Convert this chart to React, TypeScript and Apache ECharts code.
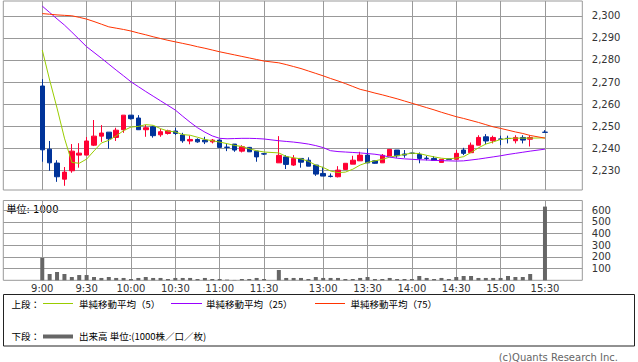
import React, { useEffect, useRef } from "react";
import * as echarts from "echarts";

// ---- axis ticks ----
const xTickSlots = [0, 6, 12, 18, 24, 30, 38, 44, 50, 56, 62, 68];
const xTickLabels = ["9:00", "9:30", "10:00", "10:30", "11:00", "11:30", "13:00", "13:30", "14:00", "14:30", "15:00", "15:30"];
const priceTicks = [2230, 2240, 2250, 2260, 2270, 2280, 2290, 2300];
const volumeTicks = [100, 200, 300, 400, 500, 600];

// ---- 5-minute candles: [open, close, low, high]; null = no trade slot ----
const candles: (number[] | null)[] = [
  [2268.2, 2239.3, 2233.9, 2271.3],
  [2239.6, 2233.4, 2229.8, 2243.3],
  [2233.3, 2227.1, 2224.8, 2234.6],
  [2226.0, 2229.2, 2223.0, 2231.5],
  [2229.8, 2238.7, 2228.9, 2241.9],
  [2236.9, 2237.8, 2231.2, 2242.3],
  [2236.9, 2243.3, 2236.9, 2245.1],
  [2241.4, 2245.5, 2241.0, 2252.8],
  [2245.5, 2246.9, 2242.9, 2250.5],
  [2247.3, 2244.3, 2239.8, 2247.3],
  [2244.9, 2248.2, 2243.3, 2249.3],
  [2248.4, 2255.0, 2247.0, 2255.0],
  [2255.0, 2253.4, 2253.0, 2255.0],
  [2253.7, 2248.4, 2248.4, 2255.0],
  [2248.4, 2249.3, 2245.2, 2250.6],
  [2249.7, 2245.7, 2244.8, 2250.2],
  [2246.1, 2247.5, 2245.2, 2248.8],
  [2246.7, 2247.9, 2246.2, 2248.4],
  [2247.8, 2246.7, 2246.0, 2249.3],
  [2246.0, 2243.4, 2242.5, 2247.0],
  [2243.3, 2244.0, 2241.8, 2245.7],
  [2244.0, 2242.9, 2242.5, 2244.5],
  [2243.7, 2242.9, 2241.9, 2245.2],
  [2242.9, 2243.7, 2242.2, 2244.2],
  [2243.7, 2240.4, 2240.0, 2244.0],
  [2240.5, 2240.4, 2238.7, 2241.9],
  [2241.9, 2239.2, 2238.4, 2241.9],
  [2238.7, 2240.7, 2238.1, 2241.4],
  [2240.4, 2238.4, 2238.4, 2240.6],
  [2238.7, 2236.1, 2233.9, 2238.7],
  [2237.5, 2237.4, 2237.0, 2237.8],
  null,
  [2233.4, 2236.8, 2233.4, 2245.5],
  [2236.1, 2232.7, 2230.6, 2236.9],
  [2232.4, 2235.4, 2232.0, 2236.9],
  [2235.4, 2233.7, 2231.2, 2235.4],
  [2234.6, 2231.9, 2231.9, 2235.9],
  [2232.4, 2228.3, 2227.5, 2232.4],
  [2228.6, 2227.4, 2227.4, 2231.6],
  [2227.4, 2227.2, 2226.8, 2228.6],
  [2227.1, 2230.1, 2226.8, 2231.9],
  [2230.4, 2233.2, 2230.4, 2233.2],
  [2232.8, 2234.6, 2232.8, 2236.6],
  [2234.3, 2236.9, 2234.3, 2238.4],
  [2236.9, 2233.4, 2233.4, 2239.9],
  [2234.3, 2233.2, 2233.0, 2234.5],
  [2233.4, 2236.8, 2233.4, 2237.4],
  [2236.5, 2239.5, 2236.5, 2239.5],
  [2239.2, 2236.6, 2235.7, 2239.2],
  [2237.4, 2236.9, 2235.7, 2239.2],
  [2237.8, 2237.7, 2237.5, 2238.0],
  [2237.2, 2235.4, 2233.2, 2238.1],
  [2235.5, 2235.4, 2234.5, 2236.6],
  [2235.4, 2234.5, 2234.5, 2236.5],
  [2233.6, 2235.0, 2233.6, 2235.0],
  [2235.1, 2235.0, 2234.8, 2235.2],
  [2235.0, 2237.7, 2235.0, 2239.2],
  [2239.2, 2237.7, 2236.9, 2240.2],
  [2238.0, 2241.4, 2238.0, 2242.6],
  [2241.4, 2244.9, 2241.4, 2245.9],
  [2245.2, 2243.3, 2241.8, 2246.4],
  [2243.4, 2244.9, 2242.2, 2245.7],
  [2244.2, 2244.1, 2241.4, 2245.7],
  [2244.5, 2244.4, 2242.2, 2245.7],
  [2243.4, 2244.9, 2242.2, 2245.9],
  [2244.9, 2243.7, 2242.2, 2245.9],
  [2244.1, 2244.9, 2240.8, 2245.9],
  null,
  [2247.3, 2247.2, 2247.2, 2248.2],
];

// ---- volume (1000 shares) ----
const volumes: (number | null)[] = [
  191, 54, 71, 54, 28, 45, 45, 28, 20, 28, 20, 20, 11, 20, 28, 20, 20, 11, 20, 20,
  20, 11, 20, 11, 11, 6, 3, 11, 11, 20, 11, null, 88, 20, 20, 20, 11, 28, 20, 20,
  20, 11, 11, 20, 28, 11, 11, 20, 11, 11, 11, 37, 20, 11, 20, 11, 28, 37, 37, 20,
  20, 20, 20, 37, 28, 28, 54, null, 630,
];

// ---- moving averages ----
const ma5: (number | null)[] = [
  2284.5, 2270.9, 2258.2, 2244.6, 2233.6, 2233.2, 2235.1, 2238.8, 2242.4, 2243.6,
  2245.6, 2248.0, 2249.6, 2249.9, 2250.7, 2250.4, 2248.9, 2247.8, 2247.4, 2246.2,
  2245.9, 2245.0, 2244.0, 2243.4, 2242.8, 2242.1, 2241.3, 2240.8, 2239.8, 2238.9,
  2238.3, null, 2237.9, 2236.3, 2235.7, 2235.2, 2234.1, 2232.4, 2231.3, 2229.7,
  2229.0, 2229.2, 2230.5, 2232.4, 2233.6, 2234.3, 2235.0, 2236.0, 2236.6, 2237.2,
  2237.8, 2237.6, 2236.8, 2236.1, 2235.5, 2235.2, 2235.6, 2236.2, 2238.1, 2240.2,
  2241.9, 2242.9, 2244.0, 2244.4, 2244.6, 2244.6, 2244.6, null, 2244.7,
];
const ma25: (number | null)[] = [
  2304.4, 2301.5, 2298.6, 2295.8, 2292.6, 2289.3, 2286.0, 2283.4, 2280.8, 2278.1,
  2275.4, 2272.8, 2270.1, 2267.9, 2265.7, 2263.6, 2261.5, 2259.4, 2257.3, 2254.5,
  2251.8, 2249.3, 2247.3, 2245.6, 2244.5, 2244.3, 2244.4, 2244.5, 2244.5, 2244.4,
  2244.2, null, 2243.4, 2243.1, 2242.8, 2242.4, 2241.9, 2241.2, 2240.3, 2238.9,
  2238.5, 2238.3, 2238.1, 2237.9, 2237.6, 2237.3, 2236.8, 2236.0, 2235.5, 2235.2,
  2235.0, 2234.8, 2234.7, 2234.5, 2234.4, 2234.3, 2234.2, 2234.3, 2234.7, 2235.1,
  2235.6, 2236.1, 2236.6, 2237.2, 2237.7, 2238.2, 2238.7, null, 2239.6,
];
const ma75: (number | null)[] = [
  2301.0, 2300.7, 2300.4, 2300.2, 2300.0, 2299.3, 2298.5, 2297.4, 2296.2, 2295.0,
  2294.4, 2293.8, 2293.1, 2292.2, 2291.4, 2290.5, 2289.7, 2288.9, 2288.2, 2287.5,
  2286.8, 2286.0, 2285.3, 2284.5, 2283.7, 2283.0, 2282.3, 2281.6, 2280.9, 2280.2,
  2279.5, null, 2278.7, 2277.9, 2277.0, 2276.1, 2275.0, 2273.9, 2272.8, 2271.6,
  2270.5, 2269.3, 2268.0, 2266.7, 2265.9, 2265.0, 2264.2, 2263.3, 2262.4, 2261.4,
  2260.4, 2259.4, 2258.4, 2257.4, 2256.3, 2255.3, 2254.3, 2253.5, 2252.6, 2251.7,
  2250.7, 2249.7, 2249.0, 2248.2, 2247.4, 2246.7, 2245.8, null, 2244.6,
];

const UP = "#ff0033";
const DOWN = "#003399";
const C_MA5 = "#99cc00";
const C_MA25 = "#9900ff";
const C_MA75 = "#ff3300";
const C_VOL = "#666666";
const GRID = "#999999";
const FONT = "'DejaVu Sans', 'Noto Sans CJK JP', sans-serif";
const CJK = "'Noto Sans CJK JP', 'DejaVu Sans', sans-serif";

const X_MIN = -5.27;
const X_MAX = 73.05;
const L = 3.3;
const W = 579;

function pairs(arr: (number | null)[]) {
  const out: number[][] = [];
  arr.forEach((v, i) => {
    if (v != null) out.push([i, v]);
  });
  return out;
}

export default function App() {
  const ref = useRef<HTMLDivElement>(null);
  useEffect(() => {
    if (!ref.current) return;
    const chart = echarts.init(ref.current, undefined, { renderer: "svg" });
    const candleData: number[][] = [];
    candles.forEach((c, i) => {
      if (c) candleData.push([i, c[0], c[1], c[2], c[3]]);
    });
    const xLabel = (v: number) => {
      const k = xTickSlots.indexOf(Math.round(v));
      return k >= 0 ? xTickLabels[k] : "";
    };
    const baseX = (gridIndex: number, showLabel: boolean) => ({
      type: "value",
      gridIndex,
      min: X_MIN,
      max: X_MAX,
      axisLine: { show: false },
      axisTick: { show: false, customValues: xTickSlots },
      axisLabel: {
        show: showLabel,
        customValues: xTickSlots,
        formatter: xLabel,
        fontSize: 10,
        fontFamily: FONT,
        color: "#333",
        margin: 3,
      },
      splitLine: { show: true, lineStyle: { color: GRID, width: 1 } },
    });
    const option: any = {
      animation: false,
      backgroundColor: "#ffffff",
      grid: [
        { left: L, top: 1, width: W, height: 189, show: true, borderColor: GRID, borderWidth: 1, backgroundColor: "transparent" },
        { left: L, top: 200.5, width: W, height: 79.8, show: true, borderColor: GRID, borderWidth: 1, backgroundColor: "transparent" },
      ],
      xAxis: [baseX(0, false), baseX(1, true)],
      yAxis: [
        {
          type: "value",
          gridIndex: 0,
          position: "right",
          min: 2221.1,
          max: 2306.7,
          splitNumber: 8,
          axisLine: { show: false },
          axisTick: { show: true, length: 6, customValues: priceTicks, lineStyle: { color: GRID } },
          axisLabel: {
            customValues: priceTicks,
            formatter: (v: number) => v.toLocaleString("en-US"),
            fontSize: 10,
            fontFamily: FONT,
            color: "#333",
            margin: 9.5,
          },
          splitLine: { show: true, lineStyle: { color: GRID, width: 1 } },
        },
        {
          type: "value",
          gridIndex: 1,
          position: "right",
          min: 0,
          max: 682,
          axisLine: { show: false },
          axisTick: { show: true, length: 6, customValues: volumeTicks, lineStyle: { color: GRID } },
          axisLabel: {
            customValues: volumeTicks,
            fontSize: 10,
            fontFamily: FONT,
            color: "#333",
            margin: 9.5,
          },
          splitLine: { show: true, lineStyle: { color: GRID, width: 1 } },
        },
      ],
      series: [
        {
          type: "candlestick",
          xAxisIndex: 0,
          yAxisIndex: 0,
          data: candleData,
          encode: { x: 0, y: [1, 2, 3, 4] },
          barWidth: 5,
          itemStyle: { color: UP, color0: DOWN, borderColor: UP, borderColor0: DOWN, borderWidth: 1 },
        },
        {
          type: "line", xAxisIndex: 0, yAxisIndex: 0, data: pairs(ma5), showSymbol: false,
          lineStyle: { color: C_MA5, width: 1 }, itemStyle: { color: C_MA5 },
        },
        {
          type: "line", xAxisIndex: 0, yAxisIndex: 0, data: pairs(ma25), showSymbol: false,
          lineStyle: { color: C_MA25, width: 1 }, itemStyle: { color: C_MA25 },
        },
        {
          type: "line", xAxisIndex: 0, yAxisIndex: 0, data: pairs(ma75), showSymbol: false,
          lineStyle: { color: C_MA75, width: 1 }, itemStyle: { color: C_MA75 },
        },
        {
          type: "bar", xAxisIndex: 1, yAxisIndex: 1, data: pairs(volumes), barWidth: 4,
          itemStyle: { color: C_VOL },
        },
      ],
      graphic: [
        { type: "text", x: 6.5, y: 209, style: { text: "単位: 1000", fontSize: 10, fontFamily: FONT, fill: "#000", align: "left", verticalAlign: "middle" } },
        { type: "rect", shape: { x: 3.5, y: 294.5, width: 631, height: 51.5 }, style: { fill: "none", stroke: "#222", lineWidth: 1 } },
        { type: "text", x: 11.5, y: 303.5, style: { text: "上段：", fontSize: 9.5, fontFamily: CJK, fill: "#000", align: "left", verticalAlign: "middle" } },
        { type: "line", shape: { x1: 43, y1: 303.5, x2: 73, y2: 303.5 }, style: { stroke: C_MA5, lineWidth: 1 } },
        { type: "text", x: 79, y: 303.5, style: { text: "単純移動平均（5）", fontSize: 9.5, fontFamily: CJK, fill: "#000", align: "left", verticalAlign: "middle" } },
        { type: "line", shape: { x1: 171, y1: 303.5, x2: 202, y2: 303.5 }, style: { stroke: C_MA25, lineWidth: 1 } },
        { type: "text", x: 206, y: 303.5, style: { text: "単純移動平均（25）", fontSize: 9.5, fontFamily: CJK, fill: "#000", align: "left", verticalAlign: "middle" } },
        { type: "line", shape: { x1: 315, y1: 303.5, x2: 345, y2: 303.5 }, style: { stroke: C_MA75, lineWidth: 1 } },
        { type: "text", x: 350.5, y: 303.5, style: { text: "単純移動平均（75）", fontSize: 9.5, fontFamily: CJK, fill: "#000", align: "left", verticalAlign: "middle" } },
        { type: "text", x: 11.5, y: 336, style: { text: "下段：", fontSize: 9.5, fontFamily: CJK, fill: "#000", align: "left", verticalAlign: "middle" } },
        { type: "line", shape: { x1: 43, y1: 336.5, x2: 73, y2: 336.5 }, style: { stroke: C_VOL, lineWidth: 4 } },
        { type: "text", x: 79, y: 336, style: { text: "出来高 単位:(1000株／口／枚)", fontSize: 9.5, fontFamily: CJK, fill: "#000", align: "left", verticalAlign: "middle" } },
        { type: "text", x: 618, y: 357.5, style: { text: "(c)Quants Research Inc.", fontSize: 10, fontFamily: FONT, fill: "#666", align: "right", verticalAlign: "middle" } },
      ],
    };
    chart.setOption(option);
    return () => chart.dispose();
  }, []);
  return (
    <div
      ref={ref}
      style={{ position: "fixed", left: 0, top: 0, width: 638, height: 362, background: "#fff" }}
    />
  );
}
